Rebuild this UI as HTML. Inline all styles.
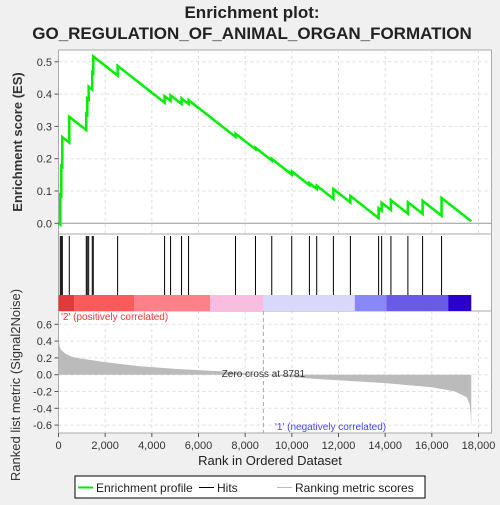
<!DOCTYPE html>
<html><head><meta charset="utf-8"><style>
body{margin:0;background:#f0f0f0;font-family:"Liberation Sans","DejaVu Sans",sans-serif}
svg text{font-family:"Liberation Sans","DejaVu Sans",sans-serif}
</style></head><body>
<svg id="c" width="500" height="500" viewBox="0 0 500 500" xmlns="http://www.w3.org/2000/svg">
<rect x="0" y="0" width="500" height="500" fill="#f0f0f0"/>
<text x="252" y="18" font-size="17" font-weight="bold" text-anchor="middle" fill="#222">Enrichment plot:</text>
<text x="252" y="39" font-size="17" font-weight="bold" text-anchor="middle" fill="#222">GO_REGULATION_OF_ANIMAL_ORGAN_FORMATION</text>
<rect x="58.5" y="50" width="433" height="383" fill="#fff" stroke="#aaa"/>
<g id="grid"></g>
<line x1="58.5" y1="234" x2="491.5" y2="234" stroke="#aaa"/>
<line x1="58.5" y1="311" x2="491.5" y2="311" stroke="#aaa"/>
<g id="colorbar"></g>
<g id="hits"></g>
<g id="metric"></g>
<g id="es"></g>
<g id="axes"></g>
<text transform="translate(22,142) rotate(-90)" font-size="13" font-weight="bold" text-anchor="middle" fill="#333">Enrichment score (ES)</text>
<text transform="translate(20,385) rotate(-90)" font-size="13" text-anchor="middle" fill="#333">Ranked list metric (Signal2Noise)</text>
<text x="270" y="465" font-size="13" text-anchor="middle" fill="#222">Rank in Ordered Dataset</text>
<text x="61" y="320" font-size="10" fill="#ff3333">'2' (positively correlated)</text>
<text x="275" y="430" font-size="10" fill="#4444ff">'1' (negatively correlated)</text>
<g>
<rect x="75" y="476" width="350" height="22" fill="#fff" stroke="#000"/>
<line x1="78" y1="487.5" x2="93" y2="487.5" stroke="#00ee00" stroke-width="2"/>
<text x="96" y="492" font-size="12" fill="#222">Enrichment profile</text>
<line x1="199" y1="487.5" x2="214" y2="487.5" stroke="#000"/>
<text x="217" y="492" font-size="12" fill="#222">Hits</text>
<line x1="277" y1="487.5" x2="292" y2="487.5" stroke="#bbb"/>
<text x="295" y="492" font-size="12" fill="#222">Ranking metric scores</text>
</g>
</svg>
<script>
const hitRanks=[77,120,163,462,1190,1233,1293,1447,1490,2534,4546,4803,5274,5574,7586,8442,9140,9996,10753,11066,11781,12509,13720,13849,14247,14974,15604,16417];
const hitJumps=[0.092,0.092,0.092,0.08,0.05,0.05,0.04,0.053,0.052,0.03,0.02,0.017,0.017,0.012,0.01,0.005,0.005,0.01,0.006,0.01,0.03,0.02,0.03,0.025,0.03,0.035,0.04,0.055];
const metricRanks=[0,50,100,300,600,1000,2000,3500,5000,7000,8781,11000,14000,16000,17000,17500,17620,17670,17690];
const metricVals=[0.42,0.34,0.3,0.25,0.21,0.19,0.15,0.1,0.07,0.04,0.0,-0.05,-0.1,-0.15,-0.2,-0.27,-0.35,-0.5,-0.63];
const esTicks=[0,0.1,0.2,0.3,0.4,0.5];
const metricTicks=[-0.6,-0.4,-0.2,0,0.2,0.4,0.6];
const xTicks=[0,2000,4000,6000,8000,10000,12000,14000,16000,18000];
const N=17690, zeroCross=8781;
const NS='http://www.w3.org/2000/svg';
const X=r=>58.5+r*420/18000;
const YE=v=>223.3-v*323;
const YM=v=>374.7-v*84;
function mk(t,a,p){const e=document.createElementNS(NS,t);for(const k in a)e.setAttribute(k,a[k]);p.appendChild(e);return e;}
const grid=document.getElementById('grid'),axes=document.getElementById('axes');
xTicks.forEach(t=>{
  if(t>0){mk('line',{x1:X(t),x2:X(t),y1:50,y2:234,stroke:'#ddd','stroke-dasharray':'3,3'},grid);
  mk('line',{x1:X(t),x2:X(t),y1:311,y2:433,stroke:'#ddd','stroke-dasharray':'3,3'},grid);}
  mk('line',{x1:X(t),x2:X(t),y1:433,y2:437,stroke:'#555'},axes);
  const tx=mk('text',{x:X(t),y:449,'font-size':11,'text-anchor':'middle',fill:'#333'},axes);tx.textContent=t.toLocaleString('en-US');
  
  
});
esTicks.forEach(t=>{
  mk('line',{x1:58.5,x2:491.5,y1:YE(t),y2:YE(t),stroke:t===0?'#999':'#ddd','stroke-dasharray':t===0?'':'3,3'},grid);
  mk('line',{x1:54.5,x2:58.5,y1:YE(t),y2:YE(t),stroke:'#555'},axes);
  const tx=mk('text',{x:52,y:YE(t)+4,'font-size':11,'text-anchor':'end',fill:'#333'},axes);tx.textContent=t.toFixed(1);
  
  
});
metricTicks.forEach(t=>{
  mk('line',{x1:58.5,x2:491.5,y1:YM(t),y2:YM(t),stroke:'#ddd','stroke-dasharray':'3,3'},grid);
  mk('line',{x1:54.5,x2:58.5,y1:YM(t),y2:YM(t),stroke:'#555'},axes);
  const tx=mk('text',{x:52,y:YM(t)+4,'font-size':11,'text-anchor':'end',fill:'#333'},axes);tx.textContent=t.toFixed(1);
  
  
});
const cb=document.getElementById('colorbar');
const segs=[[0,670,'#e23a3a'],[670,3250,'#ff5a5a'],[3250,6500,'#ff8088'],[6500,8781,'#f8bde0'],[8781,12700,'#d8d8fa'],[12700,14050,'#8888f8'],[14050,16700,'#6a5ae8'],[16700,17690,'#2a00cc']];
segs.forEach(s=>{const r=mk('rect',{x:X(s[0]),y:295,width:X(s[1])-X(s[0]),height:16,fill:s[2]},cb);

});
const hg=document.getElementById('hits');
hitRanks.forEach(r=>{const l=mk('line',{x1:X(r),x2:X(r),y1:236,y2:295,stroke:'#000','stroke-width':1},hg);

});
let d='M'+X(0)+','+YM(0);
metricRanks.forEach((r,i)=>{d+=' L'+X(r)+','+YM(metricVals[i]);});
d+=' L'+X(N)+','+YM(0)+' Z';
const ma=mk('path',{d:d,fill:'#bbb',stroke:'none'},document.getElementById('metric'));


const zl=mk('line',{x1:X(zeroCross),x2:X(zeroCross),y1:311,y2:433,stroke:'#aaa','stroke-dasharray':'4,3'},document.getElementById('metric'));


const zt=mk('text',{x:X(zeroCross),y:377,'font-size':10,'text-anchor':'middle',fill:'#333'},document.getElementById('metric'));
zt.textContent='Zero cross at '+zeroCross;


const down=1/(N-hitRanks.length);
let es=0,prev=0,pts=[[0,0]];
hitRanks.forEach((r,i)=>{es-=(r-prev)*down;pts.push([r,es]);es+=hitJumps[i];pts.push([r,es]);prev=r;});
es-=(N-prev)*down;pts.push([N,Math.max(es,0)]);
const p=mk('polyline',{points:pts.map(q=>X(q[0])+','+YE(q[1])).join(' '),fill:'none',stroke:'#00ee00','stroke-width':2.5},document.getElementById('es'));


</script>
</body></html>
